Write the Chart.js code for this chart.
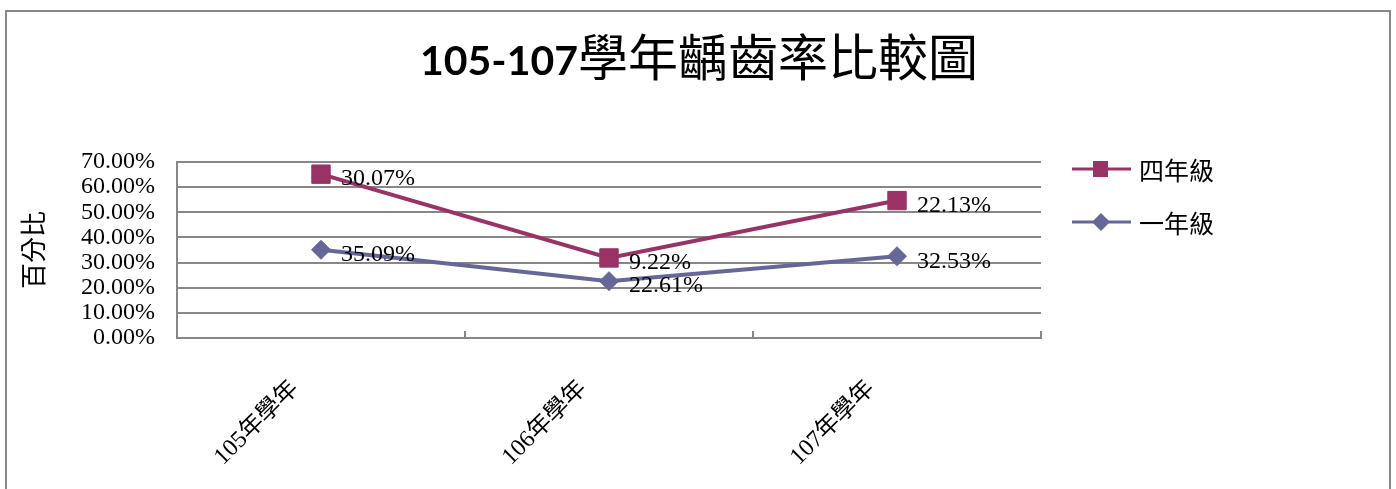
<!DOCTYPE html>
<html>
<head>
<meta charset="utf-8">
<script src="https://cdn.jsdelivr.net/npm/chart.js@4"></script>
<style>
  html, body { margin: 0; padding: 0; background: #fff; overflow: hidden; }
  #wrap { position: relative; width: 1396px; height: 489px; }
  #frame { position: absolute; left: 5px; top: 10px; width: 1386px; height: 600px; border: 2px solid #878787; box-sizing: border-box; pointer-events: none; }
  canvas { position: absolute; left: 0; top: 0; }
</style>
</head>
<body>
<div id="wrap">
  <canvas id="c" width="1396" height="489"></canvas>
  <div id="frame"></div>
</div>
<script>
// ---- data ----
const titleNum = '105-107';
const titleText = '學年齲齒率比較圖';
const categories = ['105年學年', '106年學年', '107年學年'];
const grade1Name = '一年級';
const grade1 = [35.09, 22.61, 32.53];
const grade4Name = '四年級';
const grade4 = [30.07, 9.22, 22.13];
const yTitle = '百分比';
const yMin = 0, yMax = 70, yStep = 10;

const C4 = '#993366';
const C1 = '#666699';
const SERIF = '"Liberation Serif", "Noto Sans CJK TC", serif';
const CJK = '"Noto Sans CJK TC", sans-serif';

const titlePlugin = {
  id: 'titleMix',
  afterDraw(chart) {
    const ctx = chart.ctx;
    ctx.save();
    ctx.textBaseline = 'alphabetic';
    ctx.fillStyle = '#000';
    const f1 = 'bold 41px Lato, "Open Sans", sans-serif';
    const f2 = '50px ' + CJK;
    ctx.font = f1; const w1 = ctx.measureText(titleNum).width;
    ctx.font = f2; const w2 = ctx.measureText(titleText).width;
    const cx = 699, y = 75;
    const x0 = cx - (w1 + w2) / 2;
    ctx.font = f1; ctx.textAlign = 'left'; ctx.fillText(titleNum, x0, y);
    ctx.font = f2; ctx.fillText(titleText, x0 + w1, y + 1);
    ctx.restore();
  }
};

const labelPlugin = {
  id: 'valueLabels',
  afterDatasetsDraw(chart) {
    const ctx = chart.ctx;
    ctx.save();
    ctx.font = '24px ' + SERIF;
    ctx.fillStyle = '#000';
    ctx.textAlign = 'left';
    ctx.textBaseline = 'middle';
    chart.data.datasets.forEach((ds, di) => {
      const meta = chart.getDatasetMeta(di);
      meta.data.forEach((pt, i) => {
        ctx.fillText(ds.data[i].toFixed(2) + '%', pt.x + 20, pt.y + 5);
      });
    });
    ctx.restore();
  }
};

const xLabelPlugin = {
  id: 'xLabels',
  afterDraw(chart) {
    const xs = chart.scales.x;
    const ctx = chart.ctx;
    ctx.save();
    ctx.font = '24px ' + SERIF;
    ctx.fillStyle = '#000';
    ctx.textAlign = 'right';
    ctx.textBaseline = 'middle';
    chart.data.labels.forEach((lab, i) => {
      const x = xs.getPixelForValue(i);
      ctx.save();
      ctx.translate(x - 26, xs.top + 47);
      ctx.rotate(-Math.PI / 4);
      ctx.fillText(lab, 0, 0);
      ctx.restore();
    });
    ctx.restore();
  }
};

const axisTickPlugin = {
  id: 'innerTicks',
  afterDraw(chart) {
    const xs = chart.scales.x;
    const ctx = chart.ctx;
    ctx.save();
    ctx.strokeStyle = '#878787';
    ctx.lineWidth = 2;
    for (let i = 0; i < categories.length; i++) {
      const x = Math.round(xs.getPixelForValue(i + 0.5));
      ctx.beginPath();
      ctx.moveTo(x, xs.top);
      ctx.lineTo(x, xs.top - 7);
      ctx.stroke();
    }
    ctx.restore();
  }
};

const legendPlugin = {
  id: 'customLegend',
  afterDraw(chart) {
    const ctx = chart.ctx;
    const items = [chart.data.datasets[1], chart.data.datasets[0]];
    const ys = [169, 222];
    ctx.save();
    items.forEach((ds, k) => {
      const y = ys[k];
      ctx.strokeStyle = ds.borderColor;
      ctx.lineWidth = 3;
      ctx.beginPath();
      ctx.moveTo(1072, y); ctx.lineTo(1131, y); ctx.stroke();
      ctx.fillStyle = ds.borderColor;
      if (ds.pointStyle === 'rect') {
        ctx.fillRect(1093, y - 8, 15, 16);
      } else {
        ctx.beginPath();
        ctx.moveTo(1101, y - 9); ctx.lineTo(1110, y); ctx.lineTo(1101, y + 9); ctx.lineTo(1092, y);
        ctx.closePath(); ctx.fill();
      }
      ctx.fillStyle = '#000';
      ctx.font = '25px ' + CJK;
      ctx.textAlign = 'left';
      ctx.textBaseline = 'middle';
      ctx.fillText(ds.label, 1139, y + 1);
    });
    ctx.restore();
  }
};

new Chart(document.getElementById('c'), {
  type: 'line',
  data: {
    labels: categories,
    datasets: [
      {
        label: grade1Name, data: grade1,
        borderColor: C1, backgroundColor: C1,
        borderWidth: 4, pointStyle: 'rectRot', pointRadius: 9.5,
        pointBorderWidth: 1, pointBackgroundColor: C1, pointBorderColor: C1,
        tension: 0, fill: false
      },
      {
        label: grade4Name, data: grade4,
        borderColor: C4, backgroundColor: C4,
        borderWidth: 4, pointStyle: 'rect', pointRadius: 13,
        pointBorderWidth: 1, pointBackgroundColor: C4, pointBorderColor: C4,
        tension: 0, fill: false
      }
    ]
  },
  options: {
    responsive: false,
    animation: false,
    events: [],
    layout: { padding: { left: 10, right: 355, top: 162, bottom: 0 } },
    plugins: { legend: { display: false }, title: { display: false }, tooltip: { enabled: false } },
    scales: {
      x: {
        offset: true,
        grid: { display: false, drawTicks: false },
        border: { display: true, color: '#878787', width: 2 },
        ticks: { display: false },
        afterFit(s) { s.height = 151; }
      },
      y: {
        stacked: true,
        min: yMin, max: yMax,
        grid: { color: '#878787', lineWidth: 2, drawTicks: false },
        border: { display: true, color: '#878787', width: 2 },
        ticks: {
          stepSize: yStep, color: '#000', padding: 22, autoSkip: false,
          font: { size: 24, family: SERIF },
          callback: v => v.toFixed(2) + '%'
        },
        title: {
          display: true, text: yTitle, color: '#000',
          font: { size: 26, family: CJK }, padding: { top: 8, bottom: 0 }
        },
        afterFit(s) { s.width = 167; }
      }
    }
  },
  plugins: [titlePlugin, labelPlugin, xLabelPlugin, axisTickPlugin, legendPlugin]
});
</script>
</body>
</html>
